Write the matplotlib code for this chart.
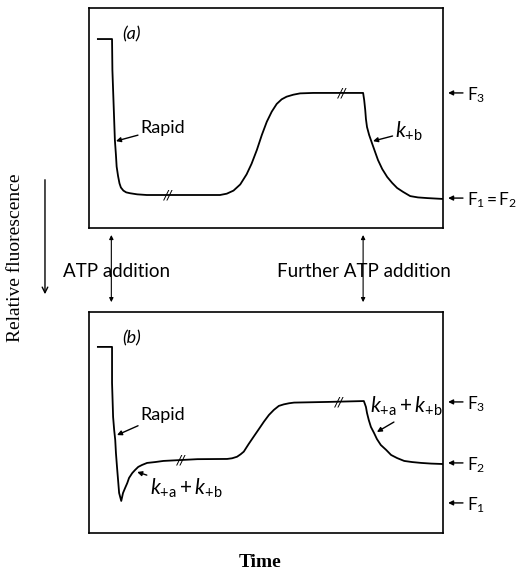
import matplotlib
matplotlib.use("Agg")
import matplotlib.pyplot as plt

plt.rcParams['font.family'] = ['Lato', 'DejaVu Sans']
plt.rcParams['mathtext.fontset'] = 'custom'
plt.rcParams['mathtext.rm'] = 'Lato'
plt.rcParams['mathtext.it'] = 'Lato:italic'
plt.rcParams['mathtext.sf'] = 'Lato'

# panel (a): time (0-100) and trace level (0-100, up = higher on page)
time_a = [2.5, 6.5, 6.6, 6.9, 7.1, 7.3, 7.6, 7.8, 8.2, 8.6, 9.0, 9.7, 10.5,
          11.6, 13.6, 16.3,
          37.0, 38.9, 40.8, 42.7, 44.5, 45.9, 47.4, 48.8, 50.2, 51.6, 53.0,
          54.4, 55.8, 57.7, 59.6, 63.3,
          77.4, 77.7, 78.0, 78.2, 78.5, 79.1, 79.9, 80.8, 81.6, 82.8, 84.2,
          85.6, 87.0, 88.7, 90.7, 92.9, 95.5, 100.0]
level_a = [85.9, 85.9, 71.8, 58.2, 49.1, 40.0, 33.2, 27.9, 23.6, 20.3, 18.4,
           17.0, 16.2, 15.8, 15.3, 15.0,
           15.0, 15.6, 17.0, 19.8, 24.4, 29.2, 35.5, 42.3, 48.3, 52.9, 56.4,
           58.5, 59.7, 60.6, 61.2, 61.4,
           61.4, 58.2, 53.6, 49.5, 45.9, 42.3, 38.6, 34.5, 30.9, 26.8, 23.2,
           20.5, 18.2, 16.4, 14.5, 13.9, 13.6, 13.2]
breaks_a = [(22.3, 15.0), (71.5, 61.4)]
levels_a = [(61.4, 'F$_3$'), (13.6, 'F$_1$\u2009=\u2009F$_2$')]

# panel (b)
time_b = [2.5, 6.5, 6.5, 6.8, 7.1, 7.4, 7.6, 7.9, 8.2, 8.5, 9.1,
          9.6, 10.2, 10.8, 11.3, 12.2, 13.0, 13.9, 15.0, 16.4, 18.7, 21.0,
          25.8, 30.6,
          39.0, 40.4, 41.8, 42.8, 43.7, 45.1, 46.5, 48.0, 49.4, 50.8, 52.2,
          53.6, 55.0, 56.5, 57.9, 67.4,
          77.6, 77.9, 78.2, 78.5, 79.0, 79.6, 80.5, 81.3, 82.4, 83.9, 85.3,
          87.0, 89.0, 91.2, 93.8, 96.6, 100.0]
level_b = [84.2, 84.2, 67.9, 52.5, 46.6, 42.1, 36.2, 29.9, 24.0, 18.1, 14.5,
           18.1, 20.4, 22.6, 24.9, 27.1, 28.5, 29.9, 30.8, 31.7, 32.1, 32.6,
           33.0, 33.4,
           33.5, 33.8, 34.5, 35.6, 36.8, 40.3, 43.6, 47.1, 50.4, 53.4, 55.7,
           57.5, 58.2, 58.7, 59.0, 59.3,
           59.7, 58.4, 57.0, 54.3, 51.1, 48.0, 45.2, 42.5, 39.8, 37.6, 35.3,
           33.9, 32.6, 32.1, 31.7, 31.4, 31.2]
breaks_b = [(26.1, 33.0), (70.5, 59.4)]
levels_b = [(59.3, 'F$_3$'), (31.7, 'F$_2$'), (13.6, 'F$_1$')]

atp_times = [6.3, 77.4]
atp_labels = ['ATP addition', 'Further ATP addition']

fig = plt.figure(figsize=(5.2, 5.69), dpi=100)
ax_a = fig.add_axes([0.1712, 0.5993, 0.681, 0.3866])
ax_b = fig.add_axes([0.1712, 0.0633, 0.681, 0.3884])

arrow_kw = dict(arrowstyle='-|>', lw=1.0, color='black', mutation_scale=7,
                shrinkA=0, shrinkB=0)


def draw_panel(ax, t, y, breaks, levels, tag):
    ax.plot(t, y, color='black', lw=1.3)
    for bt, by in breaks:
        ax.text(bt, by, '//', fontsize=9, ha='center', va='center',
                family='DejaVu Sans', style='italic')
    for lv, name in levels:
        ax.annotate('', xy=(1.014, lv), xytext=(1.056, lv),
                    xycoords=('axes fraction', 'data'),
                    textcoords=('axes fraction', 'data'),
                    arrowprops=arrow_kw, annotation_clip=False)
        ax.text(1.068, lv - 1.0, name, transform=ax.get_yaxis_transform(),
                fontsize=12.5, ha='left', va='center')
    ax.text(9.3, 88, tag, fontsize=13, style='italic', ha='left', va='center')
    ax.set_xlim(0, 100)
    ax.set_ylim(0, 100)
    ax.set_xticks([])
    ax.set_yticks([])
    for s in ax.spines.values():
        s.set_linewidth(1.2)


draw_panel(ax_a, time_a, level_a, breaks_a, levels_a, '(a)')
draw_panel(ax_b, time_b, level_b, breaks_b, levels_b, '(b)')

# labels with pointers
ax_a.annotate('Rapid', xy=(7.6, 39.5), xytext=(14.6, 45.3),
              fontsize=13, va='center', arrowprops=arrow_kw)
ax_a.annotate('$k_{+\\mathrm{b}}$', xy=(80.2, 39.5), xytext=(86.5, 43.8),
              fontsize=15, va='center', arrowprops=arrow_kw)
ax_b.annotate('Rapid', xy=(7.9, 44.3), xytext=(14.4, 53.4),
              fontsize=13, va='center', arrowprops=arrow_kw)
ax_b.annotate('$k_{+\\mathrm{a}}+k_{+\\mathrm{b}}$', xy=(13.6, 27.6),
              xytext=(17.1, 20.4), fontsize=15, va='center',
              arrowprops=arrow_kw)
ax_b.annotate('', xy=(81.3, 45.7), xytext=(86.1, 50.2), arrowprops=arrow_kw)
ax_b.text(79.4, 57.5, '$k_{+\\mathrm{a}}+k_{+\\mathrm{b}}$', fontsize=15,
          va='center', ha='left')

# ATP addition markers between panels
for at in atp_times:
    ax_a.annotate('', xy=(at, 0.469), xytext=(at, 0.587),
                  xycoords=('data', 'figure fraction'),
                  textcoords=('data', 'figure fraction'),
                  arrowprops=dict(arrowstyle='<|-|>', lw=0.8, color='black',
                                  mutation_scale=6, shrinkA=0, shrinkB=0),
                  annotation_clip=False)
fig.text(0.225, 0.522, atp_labels[0], fontsize=13.5, ha='center', va='center')
fig.text(0.700, 0.522, atp_labels[1], fontsize=13.5, ha='center', va='center')

# axis titles
fig.text(0.029, 0.547, 'Relative fluorescence', rotation=90, fontsize=14,
         family='Liberation Serif', ha='center', va='center')
fig.add_artist(matplotlib.patches.FancyArrowPatch(
    (0.0865, 0.689), (0.0865, 0.478), transform=fig.transFigure,
    arrowstyle='->', mutation_scale=10, lw=1.0, color='black'))
fig.text(0.5, 0.0123, 'Time', fontsize=14, family='Liberation Serif',
         weight='bold', ha='center', va='center')

fig.savefig('out.png', dpi=100, facecolor='white')
